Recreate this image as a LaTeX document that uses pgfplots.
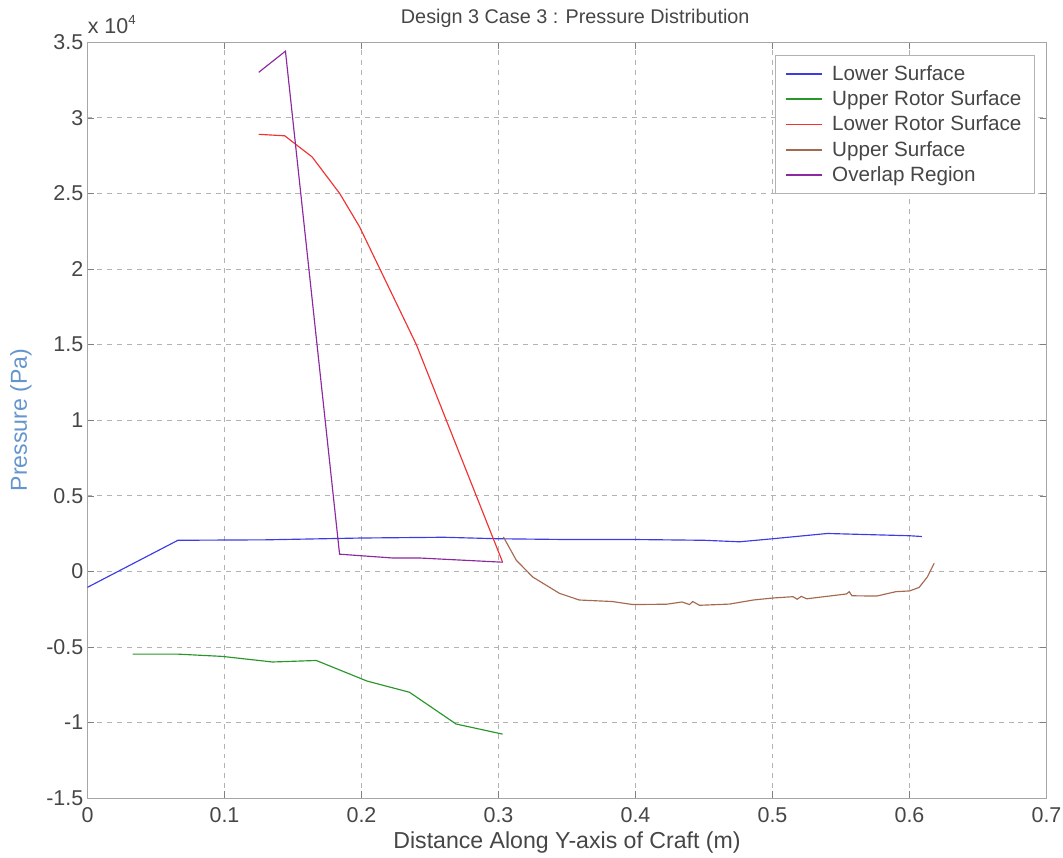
\documentclass[border=0pt]{standalone}
\usepackage{fontspec}
\setmainfont{Liberation Sans}
\usepackage{pgfplots}
\pgfplotsset{compat=1.18}
\definecolor{lsblue}{RGB}{60,60,230}
\definecolor{urgreen}{RGB}{40,150,40}
\definecolor{lrred}{RGB}{240,50,50}
\definecolor{usbrown}{RGB}{165,105,80}
\definecolor{ovpurple}{RGB}{140,40,160}
\definecolor{txtgray}{RGB}{70,70,70}
\definecolor{ylab}{RGB}{100,150,205}

\begin{document}
\begin{tikzpicture}
\begin{axis}[
    scale only axis,
    width=581pt, height=458pt,
    xmin=0, xmax=0.7, ymin=-15000, ymax=35000,
    xtick={0,0.1,0.2,0.3,0.4,0.5,0.6,0.7},
    xticklabels={0,0.1,0.2,0.3,0.4,0.5,0.6,0.7},
    ytick={-15000,-10000,-5000,0,5000,10000,15000,20000,25000,30000,35000},
    yticklabels={-1.5,-1,-0.5,0,0.5,1,1.5,2,2.5,3,3.5},
    scaled x ticks=false,
    scaled y ticks=false,
    tick label style={color=txtgray, font=\fontsize{13}{15}\selectfont},
    xticklabel style={yshift=-2pt},
    yticklabel style={xshift=1pt},
    tick align=inside,
    major tick length=4pt,
    axis line style={gray!70},
    grid=major,
    grid style={dashed, gray!60, line width=0.4pt},
    title={Design 3 Case 3 : Pressure Distribution},
    title style={color=txtgray, font=\fontsize{12}{14}\selectfont, yshift=-1pt, xshift=5pt},
    xlabel={Distance Along Y-axis of Craft (m)},
    ylabel={Pressure (Pa)},
    label style={font=\fontsize{14}{16}\selectfont},
    xlabel style={color=txtgray, yshift=1.5pt},
    ylabel style={color=ylab, yshift=2pt},
    legend style={at={(rel axis cs:0.988,0.983)}, anchor=north east, draw=gray!60, text=txtgray,
        font=\fontsize{12.5}{15}\selectfont, row sep=0.8pt, inner xsep=6pt, inner ysep=4pt},
    legend cell align=left,
    legend image code/.code={\draw[#1, line width=0.9pt] (0pt,0pt) -- (22pt,0pt); \path[draw=none] (0pt,0pt) -- (26pt,0pt);},
    every axis plot/.append style={line width=0.7pt},
]
\addplot[color=lsblue] coordinates {
    (0,-1060) (0.066,2050) (0.13,2080) (0.2,2200) (0.26,2250) (0.3,2150) (0.35,2100)
    (0.4,2100) (0.45,2050) (0.476,1950) (0.5,2150) (0.54,2500) (0.6,2350) (0.609,2300)
};
\addplot[color=urgreen] coordinates {
    (0.033,-5480) (0.066,-5480) (0.0985,-5630) (0.135,-6000) (0.167,-5900)
    (0.204,-7260) (0.235,-8000) (0.269,-10100) (0.303,-10770)
};
\addplot[color=lrred] coordinates {
    (0.125,28900) (0.144,28800) (0.164,27400) (0.184,25000) (0.1985,22800)
    (0.24,15000) (0.303,600)
};
\addplot[color=usbrown] coordinates {
    (0.3036,2270) (0.313,730) (0.325,-380) (0.3445,-1460) (0.359,-1900) (0.383,-2000)
    (0.398,-2200) (0.4226,-2180) (0.434,-2030) (0.4394,-2200) (0.4418,-2000) (0.4467,-2250)
    (0.4686,-2170) (0.486,-1900) (0.5,-1770) (0.515,-1680) (0.518,-1850) (0.521,-1660)
    (0.525,-1820) (0.554,-1500) (0.556,-1350) (0.558,-1620) (0.576,-1640) (0.590,-1350)
    (0.600,-1300) (0.607,-1070) (0.613,-380) (0.618,530)
};
\addplot[color=ovpurple] coordinates {
    (0.125,33000) (0.1445,34400) (0.184,1130) (0.2226,880) (0.242,880) (0.303,600)
};
\legend{Lower Surface, Upper Rotor Surface, Lower Rotor Surface, Upper Surface, Overlap Region}
\end{axis}
\node[anchor=south west, text=txtgray, inner sep=0pt, font=\fontsize{13}{15}\selectfont] at ([yshift=5pt]current axis.north west) {x 10\raisebox{0.75ex}{\fontsize{8}{9}\selectfont 4}};
\pgfresetboundingbox
\path (current axis.south west) ++(-53pt,-36pt) coordinate (bl);
\path (current axis.north east) ++(10pt,25.5pt) coordinate (tr);
\useasboundingbox (bl) rectangle (tr);
\end{tikzpicture}
\end{document}
